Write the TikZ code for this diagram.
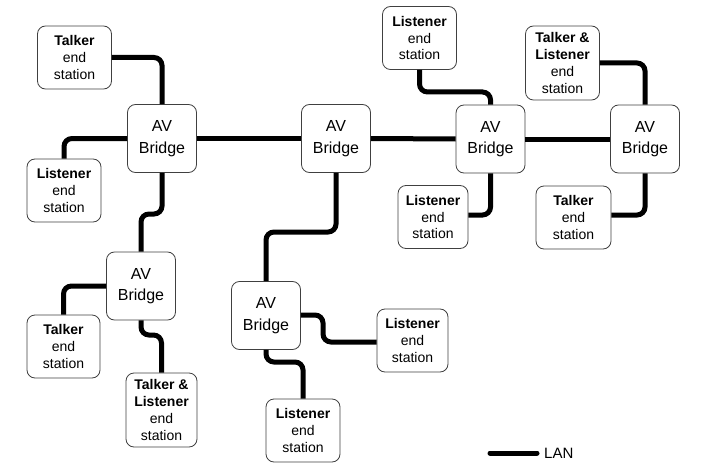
\documentclass[tikz,border=0pt]{standalone}
\usepackage{fontspec}
\setmainfont{Liberation Sans}
\begin{document}
\begin{tikzpicture}[x=1pt,y=-1pt,
  box/.style={draw=black!75,line width=0.8pt,rounded corners=8pt,fill=white,inner sep=0pt,align=center},
  bridge/.style={box,minimum width=69pt,minimum height=68pt,font=\fontsize{16}{21.5}\selectfont},
  station/.style={box,minimum width=74pt,minimum height=63pt,font=\fontsize{14}{16.7}\selectfont},
  lan/.style={line width=5pt,rounded corners=8pt,line cap=butt}]
\useasboundingbox (0,0) rectangle (706,468);
% Bridges
\node[bridge] (B1) at (162,138.5) {AV\\Bridge};
\node[bridge] (B2) at (336,138.5) {AV\\Bridge};
\node[bridge] (B3) at (490.5,139) {AV\\Bridge};
\node[bridge] (B4) at (645,139) {AV\\Bridge};
\node[bridge] (B5) at (141,286) {AV\\Bridge};
\node[bridge] (B6) at (266,315.5) {AV\\Bridge};
% Stations
\node[station] (T1) at (74.5,57.5) {\textbf{Talker}\\end\\station};
\node[station] (L1) at (64,190.5) {\textbf{Listener}\\end\\station};
\node[station] (L2) at (419.5,38) {\textbf{Listener}\\end\\station};
\node[station,minimum height=74pt] (TL1) at (562.5,63) {\textbf{Talker \&}\\\textbf{Listener}\\end\\station};
\node[station,minimum width=70pt] (L3) at (433,217) {\textbf{Listener}\\end\\station};
\node[station,minimum width=75pt] (T2) at (573.5,217.5) {\textbf{Talker}\\end\\station};
\node[station,minimum width=73pt] (T3) at (63.5,346.5) {\textbf{Talker}\\end\\station};
\node[station,minimum width=71pt,minimum height=74pt] (TL2) at (161.5,410) {\textbf{Talker \&}\\\textbf{Listener}\\end\\station};
\node[station,minimum width=71pt] (L4) at (412.5,340.5) {\textbf{Listener}\\end\\station};
\node[station,minimum width=74pt] (L5) at (303,430.5) {\textbf{Listener}\\end\\station};
% LAN connectors
\draw[lan] (T1.east |- 0,57.5) -- (162,57.5) -- (B1.north);
\draw[lan] (L1.north) -- (64,138.5) -- (B1.west);
\draw[lan] (B1.east) -- (B2.west);
\draw[lan] (B2.east) -- (B3.west);
\draw[lan] (B3.east) -- (B4.west);
\draw[lan] (B1.south) -- (162,214) -- (141,214) -- (B5.north);
\draw[lan] (B5.west) -- (63.5,286) -- (T3.north);
\draw[lan] (B5.south) -- (141,335) -- (161.5,335) -- (TL2.north);
\draw[lan] (B2.south) -- (336,232) -- (266,232) -- (B6.north);
\draw[lan] (B6.east |- 0,315) -- (323,315) -- (323,342) -- (L4.west |- 0,342);
\draw[lan] (B6.south) -- (266,362) -- (303,362) -- (L5.north);
\draw[lan] (L2.south) -- (419.5,92) -- (490.5,92) -- (B3.north);
\draw[lan] (B3.south) -- (490.5,215) -- (L3.east |- 0,215);
\draw[lan] (TL1.east |- 0,63) -- (645,63) -- (B4.north);
\draw[lan] (B4.south) -- (645,215) -- (T2.east |- 0,215);
% Legend
\coordinate (lanA) at (490,453);
\coordinate (lanB) at (537,453);
\draw[line width=5pt,line cap=round] (lanA) -- (lanB);
\node[anchor=west,inner sep=0pt,font=\fontsize{15}{17}\selectfont] (lanlabel) at (544,453.5) {LAN};
\end{tikzpicture}
\end{document}
